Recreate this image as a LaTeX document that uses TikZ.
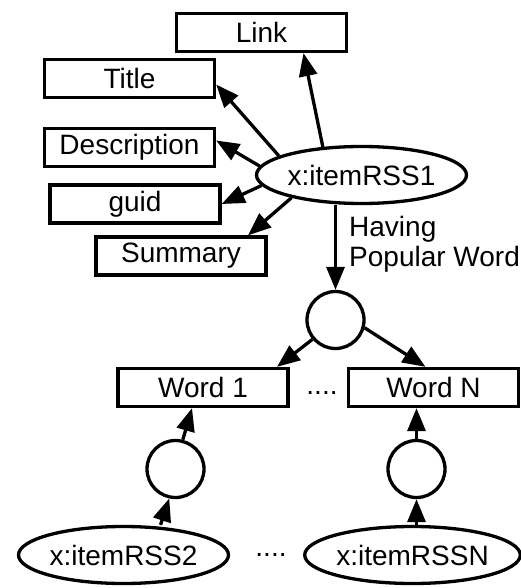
\documentclass[tikz,border=0pt]{standalone}
\usepackage{fontspec}
\setmainfont{Liberation Sans}
\usetikzlibrary{arrows.meta,shapes.geometric,calc}
\begin{document}
\begin{tikzpicture}[x=1pt,y=-1pt,
 txt/.style={font=\fontsize{28}{30}\selectfont},
 box/.style={draw,line width=3.3pt,minimum width=170pt,minimum height=38pt,inner sep=0pt,txt},
 ell/.style={draw,ellipse,line width=3.3pt,minimum width=210pt,minimum height=57pt,inner sep=0pt,txt},
 circ/.style={draw,circle,line width=3.3pt,minimum size=57pt,inner sep=0pt},
 arr/.style={line width=3.3pt,-{Triangle[length=23pt,width=18pt]}}]
\useasboundingbox (0,0) rectangle (521,588);
% top part
\node[box] (link) at (261.5,32.5) {Link};
\node[box] (title) at (129.5,78.5) {Title};
\node[box] (desc) at (129.5,147.5) {Description};
\node[box] (guid) at (135,204) {guid};
\node[box] (summary) at (181,256) {Summary};
\node[ell] (rss1) at (361.5,175) {x:itemRSS1};
\draw[arr] (rss1.144) -- ([xshift=42pt]link.south);
\draw[arr] (rss1.167) -- ([yshift=-6pt]title.east);
\draw[arr] (rss1.175) -- ([yshift=7pt]desc.east);
\draw[arr] (rss1.186) -- (guid.east);
\draw[arr] (rss1.198) -- ([xshift=67pt]summary.north);
% middle
\node[circ] (top) at (335.5,320) {};
\draw[arr] (top.north |- rss1.south) -- (top.north);
\node[txt,anchor=north west,align=left,inner sep=0pt] (lab) at (349,216) {Having\\Popular Word};
\node[box] (w1) at (203,387.5) {Word 1};
\node[box] (wn) at (433.5,387.5) {Word N};
\node[txt,inner sep=0pt] (dots1) at (322,393) {....};
\draw[arr] (top.220) -- ([xshift=74pt]w1.north);
\draw[arr] (top.-15) -- ([xshift=-8pt]wn.north);
% bottom
\node[circ] (lc) at (175.5,469) {};
\node[circ] (rc) at (416.5,469) {};
\node[ell] (rss2) at (123.5,555) {x:itemRSS2};
\node[ell] (rssn) at (412.5,555) {x:itemRSSN};
\node[txt,inner sep=0pt] (dots2) at (271,555) {....};
\draw[arr] (lc.76) -- ([xshift=-11pt]w1.south);
\draw[arr] ([xshift=37pt]rss2.north) -- (lc.258);
\draw[arr] (rc.north) -- (rc.north |- wn.south);
\draw[arr] (rc.south |- rssn.north) -- (rc.south);
\end{tikzpicture}
\end{document}
